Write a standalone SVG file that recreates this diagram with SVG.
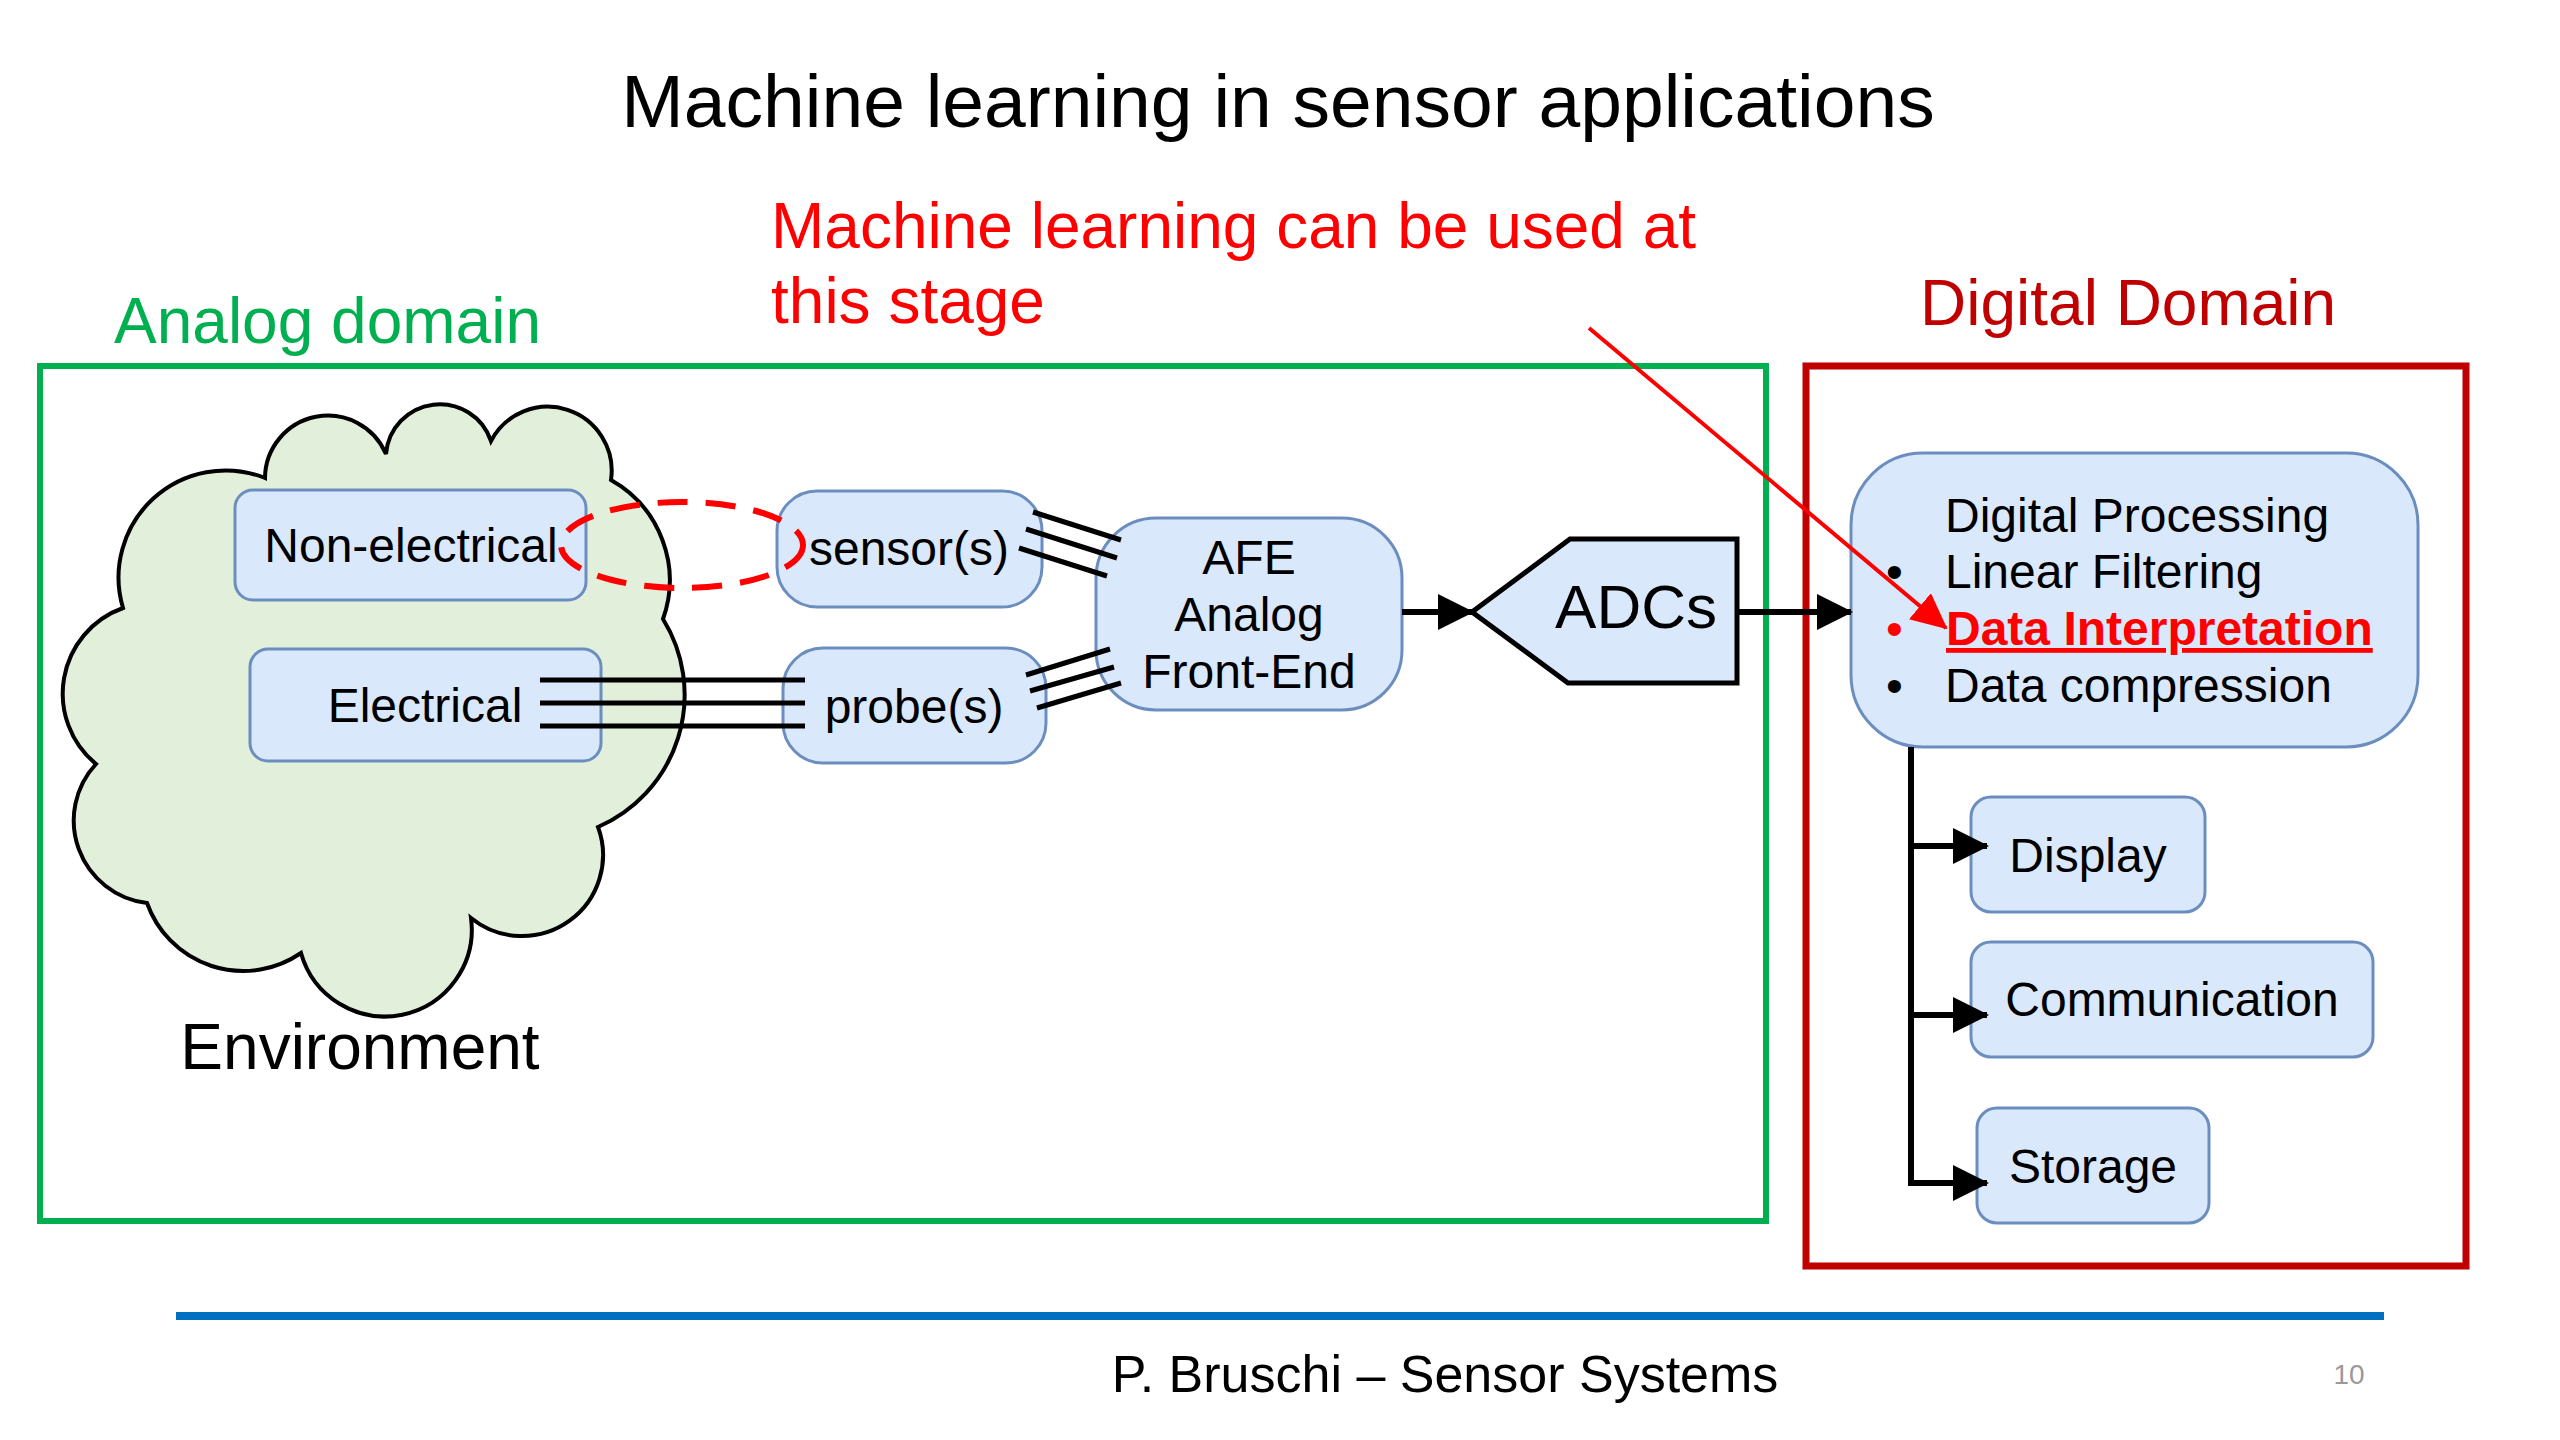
<svg xmlns="http://www.w3.org/2000/svg" width="2560" height="1440" viewBox="0 0 2560 1440">
<style>
text{font-family:"Liberation Sans",Arial,sans-serif;}
.box{fill:#dae8fc;stroke:#6c8ebf;stroke-width:3;}
.lbl{font-size:48px;fill:#000;text-anchor:middle;}
.wire{stroke:#000;stroke-width:5;fill:none;}
.conn{stroke:#000;stroke-width:6;fill:none;}
</style>
<defs>
<marker id="ah" markerUnits="userSpaceOnUse" markerWidth="36" markerHeight="36" refX="34" refY="18" orient="auto"><path d="M0,0 L36,18 L0,36 Z" fill="#000"/></marker>
<marker id="ahr" markerUnits="userSpaceOnUse" markerWidth="36" markerHeight="34" refX="34" refY="17" orient="auto"><path d="M0,0 L36,17 L0,34 Z" fill="#ff0000"/></marker>
</defs>
<rect width="2560" height="1440" fill="#fff"/>
<text x="1278" y="127" font-size="75" text-anchor="middle" fill="#000">Machine learning in sensor applications</text>
<text x="771" y="248" font-size="64" fill="#ff0000">Machine learning can be used at</text>
<text x="771" y="323" font-size="64" fill="#ff0000">this stage</text>
<g id="analog-domain">
<text x="114" y="343" font-size="64" fill="#00b050">Analog domain</text>
<rect x="40" y="366" width="1726" height="855" fill="none" stroke="#00b050" stroke-width="6"/>
</g>
<g id="digital-domain">
<text x="1920" y="325" font-size="64" fill="#c00000">Digital Domain</text>
<rect x="1806" y="366" width="660" height="900" fill="none" stroke="#c00000" stroke-width="7"/>
</g>
<g id="environment">
<path d="M123,608 A107,107 0 0 1 265,478 A63,63 0 0 1 386,454 A54,54 0 0 1 491,441 A64,64 0 0 1 611,480 A115,115 0 0 1 663,619 A144,144 0 0 1 598,827 A81,81 0 0 1 471,918 A87,87 0 0 1 301,953 A102,102 0 0 1 147,903 A83,83 0 0 1 96,764 A91,91 0 0 1 123,608 Z" fill="#e2efda" stroke="#000" stroke-width="4"/>
<text x="360" y="1069" font-size="64" text-anchor="middle">Environment</text>
</g>
<g id="non-electrical"><rect class="box" x="235" y="490" width="351" height="110" rx="18"/><text class="lbl" x="411" y="562">Non-electrical</text></g>
<g id="electrical"><rect class="box" x="250" y="649" width="351" height="112" rx="18"/><text class="lbl" x="425" y="722">Electrical</text></g>
<g id="sensor"><rect class="box" x="777" y="491" width="265" height="116" rx="40"/><text class="lbl" x="909" y="565">sensor(s)</text></g>
<g id="probe"><rect class="box" x="783" y="648" width="263" height="115" rx="40"/><text class="lbl" x="914" y="723">probe(s)</text></g>
<g id="afe"><rect class="box" x="1096" y="518" width="306" height="192" rx="60"/><text class="lbl" x="1249" y="574">AFE</text><text class="lbl" x="1249" y="631">Analog</text><text class="lbl" x="1249" y="688">Front-End</text></g>
<g id="adcs"><path d="M1472,612 L1570,539 L1737,539 L1737,683 L1568,683 Z" fill="#dae8fc" stroke="#000" stroke-width="5" stroke-linejoin="miter"/><text x="1636" y="628" font-size="62" text-anchor="middle">ADCs</text></g>
<g id="digital-processing"><rect class="box" x="1851" y="453" width="567" height="294" rx="72"/>
<text x="1945" y="532" font-size="48">Digital Processing</text>
<text x="1886" y="588" font-size="48">•</text><text x="1945" y="588" font-size="48">Linear Filtering</text>
<text x="1886" y="645" font-size="48" fill="#ff0000">•</text><text x="1946" y="645" font-size="48" font-weight="bold" fill="#ff0000" text-decoration="underline">Data Interpretation</text>
<text x="1886" y="702" font-size="48">•</text><text x="1945" y="702" font-size="48">Data compression</text>
</g>
<g id="display"><rect class="box" x="1971" y="797" width="234" height="115" rx="20"/><text class="lbl" x="2088" y="872">Display</text></g>
<g id="communication"><rect class="box" x="1971" y="942" width="402" height="115" rx="20"/><text class="lbl" x="2172" y="1016">Communication</text></g>
<g id="storage"><rect class="box" x="1977" y="1108" width="232" height="115" rx="20"/><text class="lbl" x="2093" y="1183">Storage</text></g>
<g id="connectors">
<path class="wire" d="M540,680 H805 M540,703 H805 M540,726 H805"/>
<path class="wire" d="M1033,512 L1121,540 M1026,529 L1117,558 M1019,548 L1107,576"/>
<path class="wire" d="M1026,675 L1110,649 M1030,691 L1114,667 M1037,708 L1121,683"/>
<ellipse cx="682" cy="545" rx="121" ry="43" fill="none" stroke="#ff0000" stroke-width="6" stroke-dasharray="30,18"/>
<path class="conn" d="M1402,612 H1472" marker-end="url(#ah)"/>
<path class="conn" d="M1737,612 H1851" marker-end="url(#ah)"/>
<path class="conn" d="M1911,747 V1183 H1987" marker-end="url(#ah)"/>
<path class="conn" d="M1911,846 H1987" marker-end="url(#ah)"/>
<path class="conn" d="M1911,1015 H1987" marker-end="url(#ah)"/>
<path d="M1589,328 L1946,628" stroke="#ff0000" stroke-width="4" fill="none" marker-end="url(#ahr)"/>
</g>
<line x1="176" y1="1316" x2="2384" y2="1316" stroke="#0070c0" stroke-width="8"/>
<text x="1445" y="1392" font-size="52" text-anchor="middle">P. Bruschi – Sensor Systems</text>
<text x="2349" y="1384" font-size="28" text-anchor="middle" fill="#999">10</text>
</svg>
